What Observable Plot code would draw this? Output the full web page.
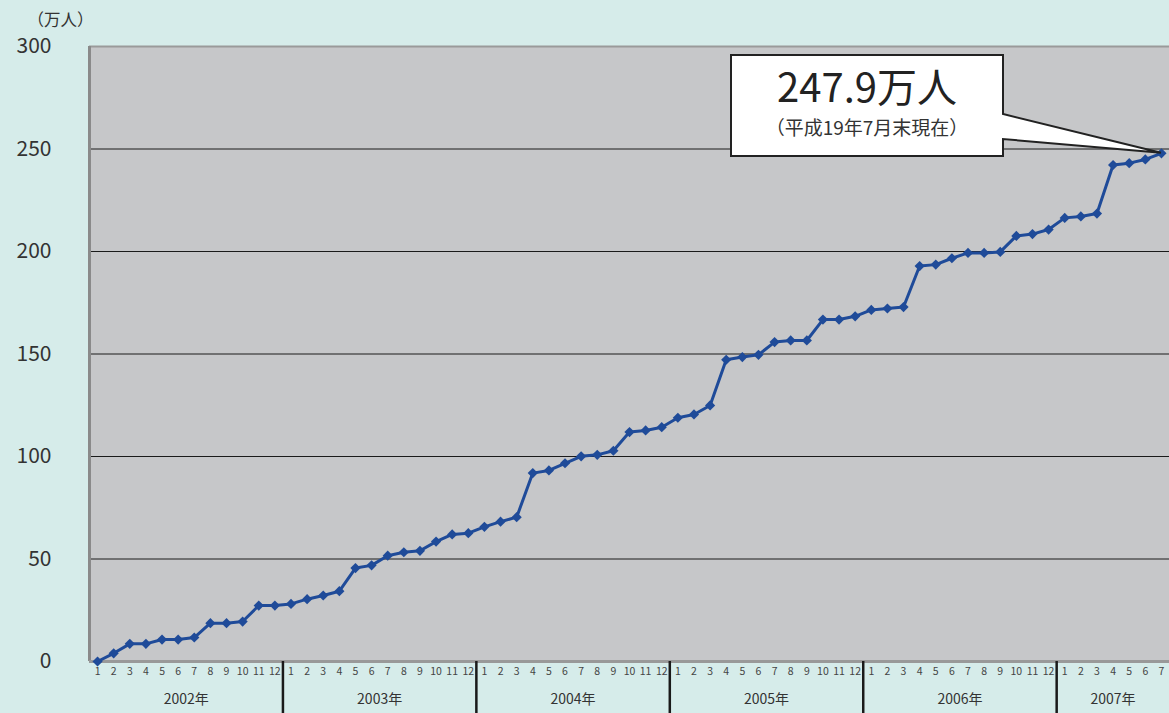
<!DOCTYPE html>
<html>
<head>
<meta charset="utf-8">
<script src="https://cdn.jsdelivr.net/npm/d3@7"></script>
<script src="https://cdn.jsdelivr.net/npm/@observablehq/plot@0.6"></script>
<style>
  html, body { margin: 0; padding: 0; background: #d6ecea; }
  #chart { width: 1169px; height: 713px; overflow: hidden; }
</style>
</head>
<body>
<div id="chart"></div>
<script>
// ---- data (万人, end of each month) ----
const years = ["2002年", "2003年", "2004年", "2005年", "2006年", "2007年"];
const monthsPerYear = [12, 12, 12, 12, 12, 7];
const v2002 = [0, 4.0, 8.6, 8.6, 10.7, 10.7, 11.7, 18.7, 18.7, 19.5, 27.3, 27.3];
const v2003 = [28.1, 30.4, 32.2, 34.3, 45.6, 46.9, 51.6, 53.3, 54.0, 58.5, 62.0, 62.6];
const v2004 = [65.7, 68.2, 70.4, 91.9, 93.2, 96.7, 100.1, 100.8, 102.8, 111.9, 112.7, 114.3];
const v2005 = [118.9, 120.5, 124.9, 147.2, 148.5, 149.6, 155.8, 156.6, 156.6, 166.8, 166.8, 168.4];
const v2006 = [171.5, 172.2, 172.9, 192.9, 193.6, 196.7, 199.3, 199.3, 199.8, 207.6, 208.5, 210.7];
const v2007 = [216.4, 217.1, 218.5, 242.2, 243.1, 244.9, 247.9];
const yTicks = [0, 50, 100, 150, 200, 250, 300];
const unitLabel = "（万人）";
const calloutValue = "247.9万人";
const calloutNote = "（平成19年7月末現在）";

// ---- derived tables ----
const series = [v2002, v2003, v2004, v2005, v2006, v2007];
const data = [];
series.forEach((vals, yi) => vals.forEach((v, m) => data.push({i: data.length, year: years[yi], month: m + 1, v})));
const monthOf = data.map(d => d.month);
let acc = 0;
const yearInfo = years.map((y, k) => {
  const start = acc; acc += monthsPerYear[k];
  return {label: y, mid: (start + acc - 1) / 2, end: acc - 0.5};
});
const boundaries = yearInfo.slice(0, -1).map(d => d.end);
const last = data[data.length - 1];

const blue = "#1f4b99";
const font = "'Noto Sans CJK JP', 'Noto Sans', sans-serif";

function callout(...args) {
  const scales = args.find(a => a && typeof a.x === "function" && typeof a.y === "function");
  const dims = args.find(a => a && typeof a.width === "number" && typeof a.marginTop === "number");
  const px = scales.x(last.i), py = scales.y(last.v);
  const right = dims.width - 166, left = dims.width - 438;
  const top = dims.marginTop + 9, bottom = dims.marginTop + 110;
  const g = d3.create("svg:g");
  g.append("path")
    .attr("d", `M${left},${top}H${right}V${bottom - 42}L${px},${py}L${right},${bottom - 17}V${bottom}H${left}Z`)
    .attr("fill", "white").attr("stroke", "#222").attr("stroke-width", 2).attr("stroke-linejoin", "miter");
  const cx = (left + right) / 2;
  g.append("text").attr("x", cx).attr("y", top + 47).attr("text-anchor", "middle")
    .attr("font-size", 40).attr("fill", "#222").attr("font-family", font).text(calloutValue);
  g.append("text").attr("x", cx).attr("y", top + 80).attr("text-anchor", "middle")
    .attr("font-size", 19).attr("fill", "#333").attr("font-family", font).text(calloutNote);
  return g.node();
}

const chart = Plot.plot({
  width: 1169,
  height: 713,
  marginLeft: 89,
  marginTop: 46,
  marginBottom: 52,
  marginRight: 0,
  style: {background: "transparent", fontFamily: font, color: "#333", overflow: "visible"},
  x: {type: "linear", domain: [-0.5, last.i + 0.5], axis: null},
  y: {domain: [0, 300], axis: null},
  marks: [
    Plot.frame({fill: "#c6c7c9", stroke: null}),
    Plot.ruleY(yTicks.filter(t => t > 0 && t < 300), {stroke: "#1a1a1a", strokeWidth: 1}),
    Plot.ruleY([300], {stroke: "#9a9a9a", strokeWidth: 2}),
    Plot.ruleX([-0.5], {stroke: "#8a8a8a", strokeWidth: 3}),
    Plot.ruleY([0], {stroke: "#999999", strokeWidth: 3}),
    Plot.axisY({ticks: yTicks, tickSize: 0, tickPadding: 38, fontSize: 21, label: null, fill: "#333"}),
    Plot.axisX({ticks: data.map(d => d.i), tickFormat: i => monthOf[i], tickSize: 0, tickPadding: 6, fontSize: 10.5, label: null, fill: "#444"}),
    Plot.ruleX(boundaries, {y1: 0, y2: -27, stroke: "#1a1a1a", strokeWidth: 2.5, clip: false}),
    Plot.text(yearInfo, {x: "mid", text: "label", frameAnchor: "bottom", dy: 42, fontSize: 14, fill: "#333"}),
    Plot.text([unitLabel], {frameAnchor: "top-left", dx: -62, dy: -32, textAnchor: "start", fontSize: 16.5, fill: "#333"}),
    Plot.line(data, {x: "i", y: "v", stroke: blue, strokeWidth: 3}),
    Plot.dot(data, {x: "i", y: "v", symbol: "diamond2", r: 4.6, fill: blue, stroke: null}),
    callout
  ]
});
document.getElementById("chart").appendChild(chart);
</script>
</body>
</html>
